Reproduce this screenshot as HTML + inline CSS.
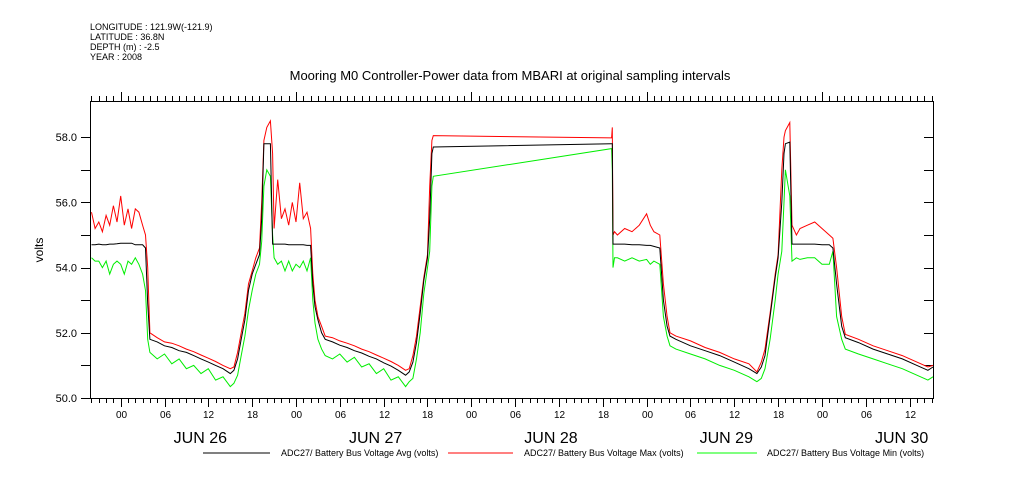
<!DOCTYPE html>
<html><head><meta charset="utf-8"><style>
html,body{margin:0;padding:0;background:#fff;}
svg{display:block;font-family:"Liberation Sans",sans-serif;}
</style></head><body>
<svg id="chart" width="1009" height="504" viewBox="0 0 1009 504">
<g font-size="9" fill="#000">
<text x="90" y="30">LONGITUDE : 121.9W(-121.9)</text>
<text x="90" y="40">LATITUDE : 36.8N</text>
<text x="90" y="50">DEPTH (m) : -2.5</text>
<text x="90" y="60">YEAR : 2008</text>
</g>
<text x="510" y="80" font-size="13" text-anchor="middle">Mooring M0 Controller-Power data from MBARI at original sampling intervals</text>
<text x="43" y="250" font-size="12" text-anchor="middle" transform="rotate(-90 43 250)">volts</text>
<g id="axes"></g>
<g id="series"></g>
<g font-size="9">
<line x1="203" y1="453" x2="270" y2="453" stroke="#000"/>
<text x="281" y="456">ADC27/ Battery Bus Voltage Avg (volts)</text>
<line x1="448" y1="453" x2="513" y2="453" stroke="#f00"/>
<text x="524" y="456">ADC27/ Battery Bus Voltage Max (volts)</text>
<line x1="697" y1="453" x2="757" y2="453" stroke="#0f0"/>
<text x="767" y="456">ADC27/ Battery Bus Voltage Min (volts)</text>
</g>
</svg>
<script>
// hours since JUN 26 00:00
const hours=[-4,-3.5,-3,-2.5,-2,-1.5,-1,-0.5,0,0.5,1,1.5,2,2.5,3,3.4,3.7,4,5,6,7,8,9,10,11,12,13,14,15,15.5,16,16.5,17,17.5,18,18.5,19,19.3,19.6,20,20.5,20.8,21,21.5,22,22.5,23,23.5,24,24.5,25,25.5,26,26.3,26.6,27,27.5,28,29,30,31,32,33,34,35,36,37,38,39,39.5,40,40.5,41,41.5,42,42.3,42.6,42.8,67.2,67.3,67.4,67.6,68,69,70,71,72,72.5,73,73.8,74.3,74.8,75.2,76,78,80,82,84,86,87.1,87.7,88.2,88.9,89.6,90,90.5,90.8,91,91.6,91.9,92.5,93,94,95,96,97,97.5,98,98.7,99.2,101,103,105,107,109,110.5,111.2];
const avgV=[54.7,54.7,54.72,54.7,54.7,54.72,54.72,54.73,54.75,54.75,54.75,54.75,54.7,54.7,54.7,54.6,52.9,51.8,51.72,51.6,51.55,51.45,51.4,51.3,51.2,51.1,51.0,50.9,50.75,50.85,51.2,51.8,52.4,53.3,53.8,54.1,54.4,55.5,57.8,57.8,57.8,54.72,54.72,54.72,54.72,54.72,54.7,54.7,54.7,54.7,54.7,54.68,54.68,53.5,52.8,52.4,52.0,51.8,51.72,51.62,51.55,51.45,51.38,51.28,51.2,51.08,50.98,50.85,50.7,50.8,51.1,51.7,52.6,53.6,54.3,55.5,57.5,57.7,57.8,57.8,54.72,54.72,54.72,54.72,54.7,54.7,54.68,54.68,54.65,54.6,53.0,52.2,51.9,51.8,51.6,51.45,51.3,51.1,50.9,50.75,50.95,51.3,52.5,53.7,54.3,56.0,57.5,57.8,57.85,54.72,54.72,54.72,54.72,54.72,54.7,54.7,54.6,53.5,52.2,51.85,51.7,51.5,51.35,51.2,51.0,50.85,50.95];
const maxV=[55.7,55.2,55.4,55.1,55.6,55.3,55.9,55.4,56.2,55.3,55.8,55.2,55.8,55.7,55.3,55.0,54.0,52.0,51.85,51.72,51.68,51.6,51.5,51.42,51.32,51.22,51.12,51.0,50.9,50.95,51.4,52.0,52.6,53.5,53.9,54.3,54.6,56.0,57.9,58.3,58.5,57.5,55.2,56.7,55.5,55.8,55.3,56.0,55.4,56.6,55.5,55.7,55.2,53.8,53.0,52.5,52.2,51.9,51.85,51.75,51.68,51.6,51.5,51.42,51.32,51.22,51.12,51.0,50.85,50.9,51.3,51.9,52.8,53.7,54.4,56.5,57.9,58.05,57.98,58.3,55.0,55.1,55.0,55.2,55.1,55.3,55.65,55.3,55.1,55.0,53.5,52.5,52.0,51.9,51.75,51.55,51.4,51.2,51.05,50.8,51.1,51.5,52.6,53.8,54.4,57.0,58.0,58.2,58.45,55.3,55.0,55.2,55.3,55.4,55.2,55.0,54.9,54.0,52.5,51.95,51.8,51.6,51.45,51.3,51.1,50.95,51.0];
const minV=[54.3,54.2,54.2,54.0,54.2,53.8,54.1,54.2,54.1,53.8,54.2,54.1,54.3,54.1,53.8,53.3,51.8,51.4,51.2,51.35,51.05,51.2,50.9,51.0,50.75,50.9,50.55,50.65,50.35,50.45,50.7,51.3,51.9,52.7,53.3,53.8,54.1,54.8,56.5,57.0,56.8,55.0,54.3,54.1,54.2,53.9,54.2,53.9,54.1,54.0,54.2,53.9,54.3,53.0,52.3,51.8,51.5,51.3,51.2,51.35,51.1,51.25,50.95,51.05,50.75,50.9,50.55,50.65,50.35,50.5,50.6,51.2,52.0,53.2,54.0,54.5,56.5,56.8,57.65,57.0,54.0,54.3,54.3,54.2,54.3,54.2,54.25,54.1,54.2,54.1,52.5,51.9,51.6,51.5,51.35,51.2,51.0,50.85,50.65,50.5,50.6,50.9,51.8,53.0,53.8,54.5,56.0,57.0,56.2,54.2,54.3,54.25,54.3,54.3,54.1,54.1,54.5,52.5,51.8,51.5,51.35,51.2,51.05,50.9,50.7,50.55,50.65];
const yTicks=[50,51,52,53,54,55,56,57,58];
const yLabels=["50.0","52.0","54.0","56.0","58.0"];
const dayLabels=["JUN 26","JUN 27","JUN 28","JUN 29","JUN 30"];
const hourLabels=["00","06","12","18"];

const X0=90,X1=933,Y0=398,Y1=101;
const HMIN=-4.2,HMAX=111.2;
const VMIN=50;
function xs(h){return X0+(h-HMIN)/(HMAX-HMIN)*(X1-X0);}
function ys(v){return Y0-(v-VMIN)*32.6;}
const NS="http://www.w3.org/2000/svg";
function mk(tag,attrs,parent){const e=document.createElementNS(NS,tag);for(const k in attrs)e.setAttribute(k,attrs[k]);parent.appendChild(e);return e;}
const axes=document.getElementById('axes');
const frame=mk('rect',{x:X0+0.5,y:Y1+0.5,width:X1-X0,height:Y0-Y1,fill:'none',stroke:'#000','stroke-width':1},axes);


for(let h=Math.ceil(HMIN);h<=HMAX;h++){
  const x=Math.round(xs(h))+0.5;
  const major=((h%6)+6)%6===0;
  const day=((h%24)+24)%24===0;
  const bt=mk('line',{x1:x,y1:Y0,x2:x,y2:Y0+(major?9:5),stroke:'#000'},axes);
  
  
  const tt=mk('line',{x1:x,y1:Y1,x2:x,y2:Y1-(day?9:5),stroke:'#000'},axes);
  
  
  if(major){
    const lab=mk('text',{x:x,y:418,'font-size':10,'text-anchor':'middle'},axes);
    lab.textContent=hourLabels[(((h%24)+24)%24)/6];
    
    
  }
}
dayLabels.forEach((d,i)=>{
  const t=mk('text',{x:xs(i*24+12)-8,y:443,'font-size':16,'text-anchor':'middle'},axes);
  t.textContent=d;
  
  
});
yTicks.forEach(v=>{
  const y=Math.round(ys(v))+0.5;
  const l=mk('line',{x1:X0-9,y1:y,x2:X0,y2:y,stroke:'#000'},axes);
  
  
  const r=mk('line',{x1:X1-9,y1:y,x2:X1,y2:y,stroke:'#000'},axes);
  
  
});
yLabels.forEach(s=>{
  const t=mk('text',{x:77,y:ys(parseFloat(s))+4,'font-size':11,'text-anchor':'end'},axes);
  t.textContent=s;
  
  
});
const ser=document.getElementById('series');
function line(vals,color,name){
  const d=vals.map((v,i)=>(i?'L':'M')+xs(hours[i]).toFixed(1)+' '+ys(v).toFixed(1)).join(' ');
  const p=mk('path',{d:d,fill:'none',stroke:color,'stroke-width':1,'stroke-linejoin':'miter'},ser);
  
  
}
line(minV,'#00ee00','series-min-line');
line(maxV,'#ff0000','series-max-line');
line(avgV,'#000000','series-avg-line');
</script>
</body></html>
